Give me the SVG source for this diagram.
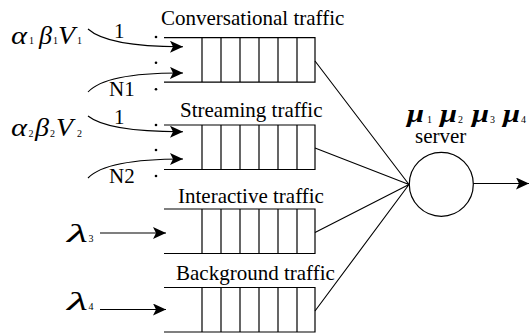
<svg xmlns="http://www.w3.org/2000/svg" width="529" height="333" viewBox="0 0 529 333">
<defs>
<marker id="ah" viewBox="0 0 13 12" refX="13" refY="6" markerWidth="13" markerHeight="12" markerUnits="userSpaceOnUse" orient="auto">
<path d="M0,0 L13,6 L0,12 L3,6 Z" fill="#000"/>
</marker>
<g id="q">
<path d="M164,0 H315 V44.5 H164 M202,0 V44.5 M221,0 V44.5 M240,0 V44.5 M259,0 V44.5 M278,0 V44.5 M297,0 V44.5" fill="none" stroke="#000" stroke-width="1.2"/>
</g>
</defs>
<style>
text{font-family:'Liberation Serif','DejaVu Serif',serif;fill:#000}
.t{font-size:21px}
.g{font-style:italic;font-size:25px}
.m{font-style:italic;font-weight:bold;font-size:25px}
.s{font-size:10px}
.ln{fill:none;stroke:#000;stroke-width:1.1}
</style>
<rect width="529" height="333" fill="#fff"/>

<g id="queue1"><use href="#q" y="37.7"/><text class="t" x="161" y="25">Conversational traffic</text></g>
<g id="queue2"><use href="#q" y="125"/><text class="t" x="180" y="116.7">Streaming traffic</text></g>
<g id="queue3"><use href="#q" y="209"/><text class="t" x="178" y="203">Interactive traffic</text></g>
<g id="queue4"><use href="#q" y="287.5"/><text class="t" x="176" y="280">Background traffic</text></g>

<g id="server">
<circle cx="441.3" cy="184.3" r="32" fill="none" stroke="#000" stroke-width="1.2"/>
<text class="t" x="415" y="143">server</text>
<text class="m" x="407" y="121.5" textLength="17" lengthAdjust="spacingAndGlyphs">μ</text><text class="s" x="427" y="122.5">1</text>
<text class="m" x="440" y="121.5" textLength="17" lengthAdjust="spacingAndGlyphs">μ</text><text class="s" x="458" y="122.5">2</text>
<text class="m" x="472" y="121.5" textLength="17" lengthAdjust="spacingAndGlyphs">μ</text><text class="s" x="490" y="122.5">3</text>
<text class="m" x="503" y="121.5" textLength="17" lengthAdjust="spacingAndGlyphs">μ</text><text class="s" x="521" y="122.5">4</text>
</g>

<g id="source1">
<text class="g" x="11" y="43.5" textLength="16" lengthAdjust="spacingAndGlyphs">α</text><text class="s" x="29" y="44">1</text>
<text class="g" x="39" y="43.5" textLength="13" lengthAdjust="spacingAndGlyphs">β</text><text class="s" x="53" y="44">1</text>
<text class="g" x="58" y="43.5" textLength="17" lengthAdjust="spacingAndGlyphs">V</text><text class="s" x="77" y="44">1</text>
<text class="t" x="114" y="38">1</text>
<text class="t" x="109" y="96">N1</text>
<circle cx="156" cy="37" r="1.3"/><circle cx="156" cy="62.7" r="1.3"/><circle cx="156" cy="89.3" r="1.3"/>
</g>
<g id="source2">
<text class="g" x="11" y="136" textLength="16" lengthAdjust="spacingAndGlyphs">α</text><text class="s" x="28.5" y="136.5">2</text>
<text class="g" x="35" y="136" textLength="14" lengthAdjust="spacingAndGlyphs">β</text><text class="s" x="50" y="136.5">2</text>
<text class="g" x="56" y="136" textLength="17" lengthAdjust="spacingAndGlyphs">V</text><text class="s" x="77" y="136.5">2</text>
<text class="t" x="114" y="124">1</text>
<text class="t" x="109" y="183">N2</text>
<circle cx="156" cy="125" r="1.3"/><circle cx="156" cy="150" r="1.3"/><circle cx="156" cy="176" r="1.3"/>
</g>
<g id="source3">
<text class="g" x="67" y="242" textLength="21" lengthAdjust="spacingAndGlyphs">λ</text><text class="s" x="88.5" y="242">3</text>
</g>
<g id="source4">
<text class="g" x="67" y="310" textLength="21" lengthAdjust="spacingAndGlyphs">λ</text><text class="s" x="88.5" y="310">4</text>
</g>

<g id="connectors">
<path class="ln" d="M88,29 Q108,47 183,46.7" marker-end="url(#ah)"/>
<path class="ln" d="M88,92 Q106,72.5 183,73" marker-end="url(#ah)"/>
<path class="ln" d="M88,116 Q108,132 183,131.7" marker-end="url(#ah)"/>
<path class="ln" d="M88,178 Q106,159 183,159" marker-end="url(#ah)"/>
<path class="ln" d="M100,233 H166" marker-end="url(#ah)"/>
<path class="ln" d="M100,309.5 H166" marker-end="url(#ah)"/>
<path class="ln" d="M315,61 L409,184.5 M315,148 L409,184.5 M315,232.5 L409,184.5 M315,311 L409,184.5"/>
<path class="ln" d="M473.3,183.5 H529" marker-end="url(#ah)"/>
</g>
</svg>
